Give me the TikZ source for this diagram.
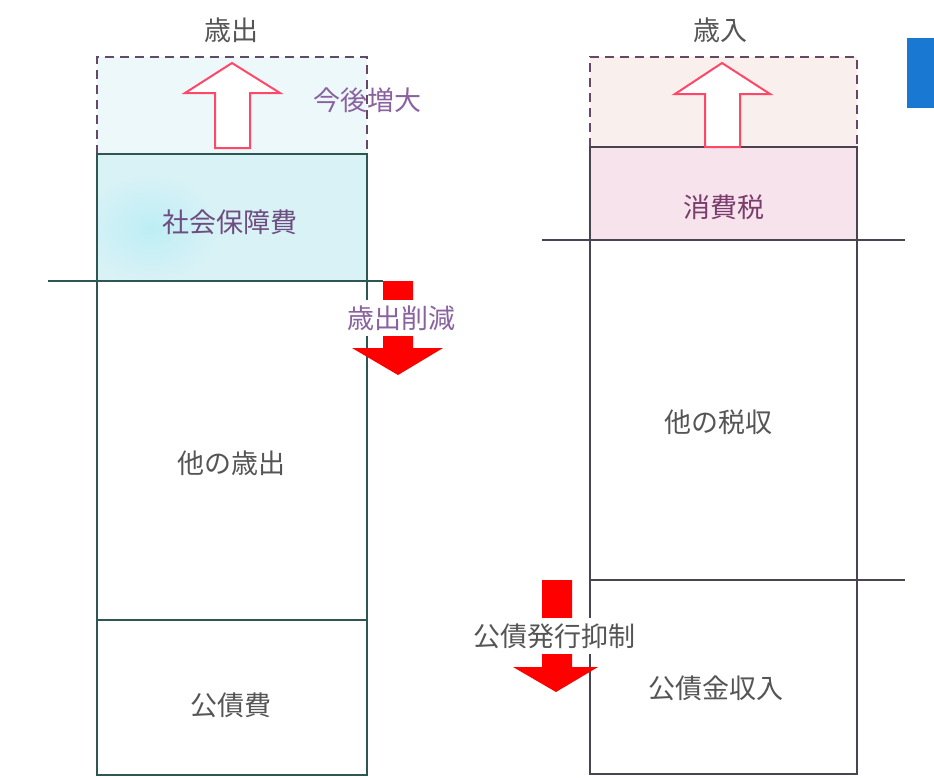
\documentclass[tikz,border=0pt]{standalone}
\usepackage{fontspec}
\newfontfamily\jp{Noto Sans CJK JP}
\definecolor{lineL}{HTML}{2E5652}
\definecolor{lineR}{HTML}{4A4452}
\definecolor{dashC}{HTML}{654868}
\definecolor{topL}{HTML}{EDF8FA}
\definecolor{socL}{HTML}{D9F2F6}
\definecolor{glowL}{HTML}{BDEEF5}
\definecolor{topR}{HTML}{F9EFEC}
\definecolor{taxR}{HTML}{F6E3EC}
\definecolor{txtG}{HTML}{555555}
\definecolor{txtP}{HTML}{8A62A0}
\definecolor{txtM}{HTML}{7A3C6C}
\definecolor{upC}{HTML}{FF4868}
\definecolor{blueR}{HTML}{1878D2}
\begin{document}
\begin{tikzpicture}[x=1pt,y=-1pt,
  lbl/.style={font=\jp\fontsize{27}{32}\selectfont, text=txtG, inner sep=1pt},
  colL/.style={line width=2pt, draw=lineL},
  colR/.style={line width=2pt, draw=lineR},
  dashbox/.style={line width=2.6pt, draw=dashC, dash pattern=on 9pt off 6pt},
  uparrow/.style={line width=2pt, draw=upC, fill=white, line join=miter},
  downarrow/.style={fill=red, draw=none},
  cuttext/.style={lbl, fill=white, inner xsep=2pt, minimum height=36pt}]
\useasboundingbox (0,0) rectangle (934,777);
% fills
\fill[topL] (97,57) rectangle (367,154);
\fill[socL] (97,154) rectangle (367,281);
\begin{scope}
  \clip (97,154) rectangle (367,281);
  \shade[inner color=glowL, outer color=socL] (150,228) ellipse [x radius=70pt, y radius=55pt];
\end{scope}
\fill[topR] (590,57) rectangle (857,147);
\fill[taxR] (590,147) rectangle (857,240);
\fill[blueR] (907,38) rectangle (934,108);
% dashed tops
\draw[dashbox] (97,154) -- (97,57) -- (367,57) -- (367,154);
\draw[dashbox] (590,147) -- (590,57) -- (857,57) -- (857,147);
% left column
\draw[colL] (97,154) -- (97,775) -- (367,775) -- (367,154) -- cycle;
\draw[colL] (48,281) -- (383,281);
\draw[colL] (97,620) -- (367,620);
% right column
\draw[colR] (590,147) -- (590,774) -- (857,774) -- (857,147) -- cycle;
\draw[colR] (542,240) -- (905,240);
\draw[colR] (590,580) -- (905,580);
% up arrows
\draw[uparrow] (215,148) -- (215,93) -- (185,93) -- (232,63) -- (280,93) -- (250,93) -- (250,148) -- cycle;
\draw[uparrow] (705,147) -- (705,94) -- (675,94) -- (722,63) -- (770,94) -- (740,94) -- (740,147) -- cycle;
% down arrows
\fill[downarrow] (383,281) -- (383,348) -- (352,348) -- (398,375) -- (443,348) -- (413,348) -- (413,281) -- cycle;
\fill[downarrow] (542,580) -- (542,667) -- (513,667) -- (556,692) -- (598,667) -- (572,667) -- (572,580) -- cycle;
% labels
\node[lbl] (tL) at (231,30) {歳出};
\node[lbl] (tR) at (720,30) {歳入};
\node[lbl, text=txtP] (grow) at (367,100) {今後増大};
\node[lbl, text=txtP!80!black] (soc) at (230,222) {社会保障費};
\node[cuttext, text=txtP] (cut1) at (401,318) {歳出削減};
\node[lbl] (othL) at (231,463) {他の歳出};
\node[lbl] (debtL) at (231,705) {公債費};
\node[lbl, text=txtM] (tax) at (724,207) {消費税};
\node[lbl] (othR) at (718,422) {他の税収};
\node[cuttext] (cut2) at (554,636) {公債発行抑制};
\node[lbl] (debtR) at (716,688) {公債金収入};
\end{tikzpicture}
\end{document}
